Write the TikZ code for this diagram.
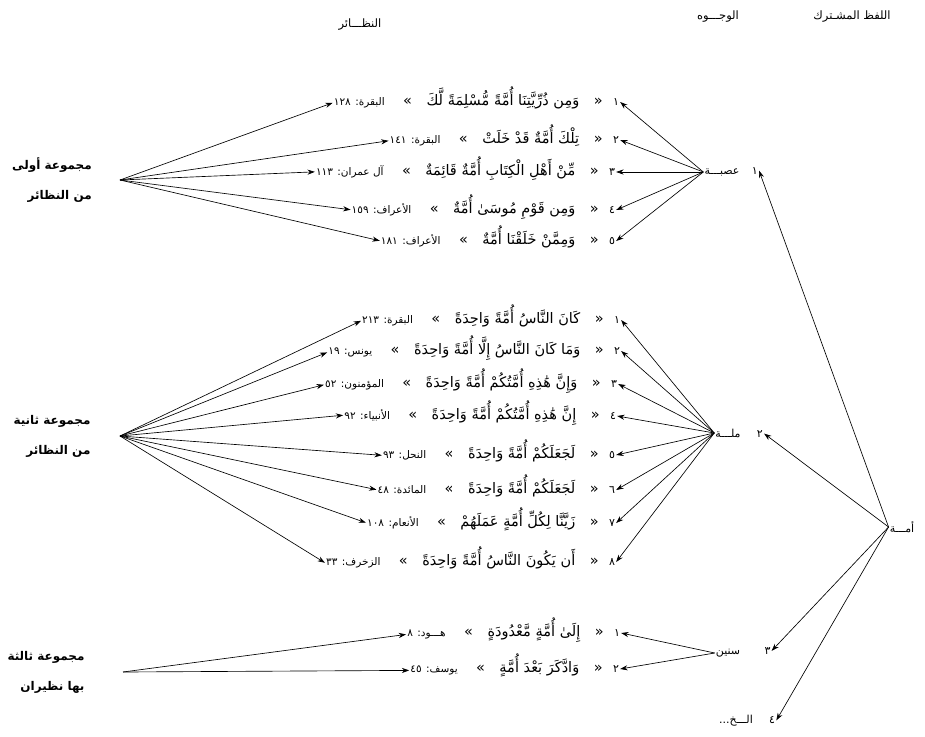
\documentclass[tikz,border=0pt]{standalone}
\usepackage{fontspec}
\usetikzlibrary{arrows.meta,positioning}
\newfontfamily\arabicfont[Script=Arabic]{DejaVu Sans}
\TeXXeTstate=1
\newcommand{\artext}[1]{\beginR #1\endR}
\tikzset{
  verse/.style={font=\arabicfont\fontsize{14.5}{17}\selectfont, inner sep=1pt},
  cite/.style={font=\arabicfont\fontsize{10.5}{12}\selectfont, inner sep=1pt},
  num/.style={font=\arabicfont\fontsize{11}{13}\selectfont, inner sep=1pt},
  facet/.style={font=\arabicfont\fontsize{11}{13}\selectfont, inner sep=1pt},
  heading/.style={font=\arabicfont\fontsize{11.5}{13}\selectfont, inner sep=1pt},
  group/.style={font=\arabicfont\bfseries\fontsize{12}{30}\selectfont, align=right, inner sep=1pt},
  arrow/.style={-{Stealth[length=2.6mm,width=1.8mm]}, line width=0.65pt}
}

\begin{document}
\begin{tikzpicture}[x=1pt, y=-1pt]
\useasboundingbox (0,0) rectangle (925,736);
% headings
\node[heading] (hlafz) at (852,17) {\artext{اللفظ المشـترك}};
\node[heading] (hwujuh) at (718,17) {\artext{الوجـــوه}};
\node[heading] (hnazair) at (360,25) {\artext{النظـــائر}};
% the shared word and its senses
\node[facet] (umma) at (902,527) {\artext{أمـــة}};
\node[facet] (asabah) at (722,172) {\artext{عصبـــة}};
\node[facet, base right=10pt of asabah] (asabahn) {\artext{١}};
\node[facet] (millah) at (728,433) {\artext{ملـــة}};
\node[facet, base right=14pt of millah] (millahn) {\artext{٢}};
\node[facet] (sinin) at (728,653) {\artext{سنين}};
\node[facet, base right=22pt of sinin] (sininn) {\artext{٣}};
\node[facet] (ilakh) at (736,721) {\artext{الـــخ...}};
\node[facet, base right=14pt of ilakh] (ilakhn) {\artext{٤}};
\draw[arrow] (umma.west) -- (asabahn.east);
\draw[arrow] (umma.west) -- (millahn.east);
\draw[arrow] (umma.west) -- (sininn.east);
\draw[arrow] (umma.west) -- (ilakhn.east);
% first group
\node[group] (grpA) at (52,180) {\artext{مجموعة أولى}\\\artext{من النظائر}};
\coordinate (hubA) at (120,180);
\node[num] (g1n1) at (616,102) {\artext{١}};
\node[verse, base left=8pt of g1n1] (g1v1) {\artext{«\quad وَمِن ذُرِّيَّتِنَا أُمَّةً مُّسْلِمَةً لَّكَ\quad»}};
\node[cite, base left=16pt of g1v1] (g1c1) {\artext{البقرة: ١٢٨}};
\node[num] (g1n2) at (616,140) {\artext{٢}};
\node[verse, base left=8pt of g1n2] (g1v2) {\artext{«\quad تِلْكَ أُمَّةٌ قَدْ خَلَتْ\quad»}};
\node[cite, base left=16pt of g1v2] (g1c2) {\artext{البقرة: ١٤١}};
\node[num] (g1n3) at (612,172) {\artext{٣}};
\node[verse, base left=8pt of g1n3] (g1v3) {\artext{«\quad مِّنْ أَهْلِ الْكِتَابِ أُمَّةٌ قَائِمَةٌ\quad»}};
\node[cite, base left=16pt of g1v3] (g1c3) {\artext{آل عمران: ١١٣}};
\node[num] (g1n4) at (612,210) {\artext{٤}};
\node[verse, base left=8pt of g1n4] (g1v4) {\artext{«\quad وَمِن قَوْمِ مُوسَىٰ أُمَّةٌ\quad»}};
\node[cite, base left=16pt of g1v4] (g1c4) {\artext{الأعراف: ١٥٩}};
\node[num] (g1n5) at (612,241) {\artext{٥}};
\node[verse, base left=8pt of g1n5] (g1v5) {\artext{«\quad وَمِمَّنْ خَلَقْنَا أُمَّةٌ\quad»}};
\node[cite, base left=16pt of g1v5] (g1c5) {\artext{الأعراف: ١٨١}};
\draw[arrow] (hubA) -- (g1c1.west);
\draw[arrow] (hubA) -- (g1c2.west);
\draw[arrow] (hubA) -- (g1c3.west);
\draw[arrow] (hubA) -- (g1c4.west);
\draw[arrow] (hubA) -- (g1c5.west);
\draw[arrow] (asabah.west) -- (g1n1.east);
\draw[arrow] (asabah.west) -- (g1n2.east);
\draw[arrow] (asabah.west) -- (g1n3.east);
\draw[arrow] (asabah.west) -- (g1n4.east);
\draw[arrow] (asabah.west) -- (g1n5.east);
% second group
\node[group] (grpB) at (52,436) {\artext{مجموعة ثانية}\\\artext{من النظائر}};
\coordinate (hubB) at (120,436);
\node[num] (g2n1) at (617,320) {\artext{١}};
\node[verse, base left=8pt of g2n1] (g2v1) {\artext{«\quad كَانَ النَّاسُ أُمَّةً وَاحِدَةً\quad»}};
\node[cite, base left=16pt of g2v1] (g2c1) {\artext{البقرة: ٢١٣}};
\node[num] (g2n2) at (617,351) {\artext{٢}};
\node[verse, base left=8pt of g2n2] (g2v2) {\artext{«\quad وَمَا كَانَ النَّاسُ إِلَّا أُمَّةً وَاحِدَةً\quad»}};
\node[cite, base left=16pt of g2v2] (g2c2) {\artext{يونس: ١٩}};
\node[num] (g2n3) at (614,384) {\artext{٣}};
\node[verse, base left=8pt of g2n3] (g2v3) {\artext{«\quad وَإِنَّ هَٰذِهِ أُمَّتُكُمْ أُمَّةً وَاحِدَةً\quad»}};
\node[cite, base left=16pt of g2v3] (g2c3) {\artext{المؤمنون: ٥٢}};
\node[num] (g2n4) at (613,416) {\artext{٤}};
\node[verse, base left=8pt of g2n4] (g2v4) {\artext{«\quad إِنَّ هَٰذِهِ أُمَّتُكُمْ أُمَّةً وَاحِدَةً\quad»}};
\node[cite, base left=16pt of g2v4] (g2c4) {\artext{الأنبياء: ٩٢}};
\node[num] (g2n5) at (612,455) {\artext{٥}};
\node[verse, base left=8pt of g2n5] (g2v5) {\artext{«\quad لَجَعَلَكُمْ أُمَّةً وَاحِدَةً\quad»}};
\node[cite, base left=16pt of g2v5] (g2c5) {\artext{النحل: ٩٣}};
\node[num] (g2n6) at (612,490) {\artext{٦}};
\node[verse, base left=8pt of g2n6] (g2v6) {\artext{«\quad لَجَعَلَكُمْ أُمَّةً وَاحِدَةً\quad»}};
\node[cite, base left=16pt of g2v6] (g2c6) {\artext{المائدة: ٤٨}};
\node[num] (g2n7) at (612,523) {\artext{٧}};
\node[verse, base left=8pt of g2n7] (g2v7) {\artext{«\quad زَيَّنَّا لِكُلِّ أُمَّةٍ عَمَلَهُمْ\quad»}};
\node[cite, base left=16pt of g2v7] (g2c7) {\artext{الأنعام: ١٠٨}};
\node[num] (g2n8) at (612,562) {\artext{٨}};
\node[verse, base left=8pt of g2n8] (g2v8) {\artext{«\quad أَن يَكُونَ النَّاسُ أُمَّةً وَاحِدَةً\quad»}};
\node[cite, base left=16pt of g2v8] (g2c8) {\artext{الزخرف: ٣٣}};
\draw[arrow] (hubB) -- (g2c1.west);
\draw[arrow] (hubB) -- (g2c2.west);
\draw[arrow] (hubB) -- (g2c3.west);
\draw[arrow] (hubB) -- (g2c4.west);
\draw[arrow] (hubB) -- (g2c5.west);
\draw[arrow] (hubB) -- (g2c6.west);
\draw[arrow] (hubB) -- (g2c7.west);
\draw[arrow] (hubB) -- (g2c8.west);
\draw[arrow] (millah.west) -- (g2n1.east);
\draw[arrow] (millah.west) -- (g2n2.east);
\draw[arrow] (millah.west) -- (g2n3.east);
\draw[arrow] (millah.west) -- (g2n4.east);
\draw[arrow] (millah.west) -- (g2n5.east);
\draw[arrow] (millah.west) -- (g2n6.east);
\draw[arrow] (millah.west) -- (g2n7.east);
\draw[arrow] (millah.west) -- (g2n8.east);
% third group
\node[group] (grpC) at (46,672) {\artext{مجموعة ثالثة}\\\artext{بها نظيران}};
\coordinate (hubC) at (123,672);
\node[num] (g3n1) at (617,633) {\artext{١}};
\node[verse, base left=8pt of g3n1] (g3v1) {\artext{«\quad إِلَىٰ أُمَّةٍ مَّعْدُودَةٍ\quad»}};
\node[cite, base left=16pt of g3v1] (g3c1) {\artext{هـــود: ٨}};
\node[num] (g3n2) at (616,669) {\artext{٢}};
\node[verse, base left=8pt of g3n2] (g3v2) {\artext{«\quad وَادَّكَرَ بَعْدَ أُمَّةٍ\quad»}};
\node[cite, base left=16pt of g3v2] (g3c2) {\artext{يوسف: ٤٥}};
\draw[arrow] (hubC) -- (g3c1.west);
\draw[arrow] (hubC) -- (g3c2.west);
\draw[arrow] (sinin.west) -- (g3n1.east);
\draw[arrow] (sinin.west) -- (g3n2.east);
\end{tikzpicture}
\end{document}
